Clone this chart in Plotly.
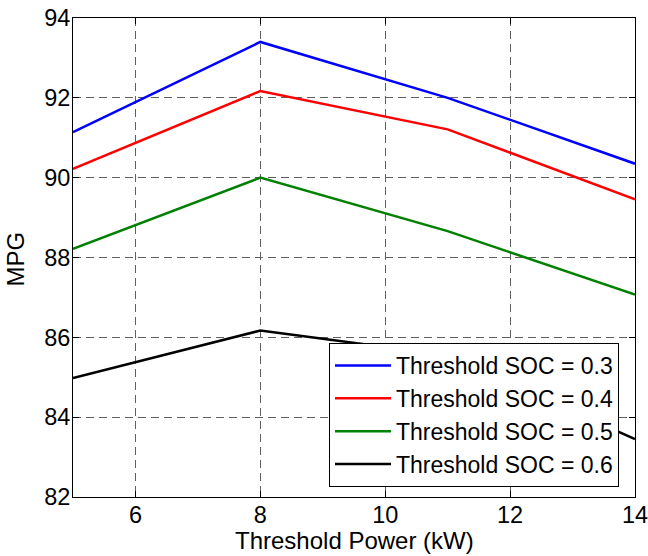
import plotly.graph_objects as go

x_power = [5, 8, 11, 14]
mpg_soc_03 = [91.14, 93.40, 92.00, 90.35]
mpg_soc_04 = [90.22, 92.17, 91.21, 89.46]
mpg_soc_05 = [88.22, 90.00, 88.66, 87.07]
mpg_soc_06 = [84.98, 86.17, 85.55, 83.45]
series_names = ["Threshold SOC = 0.3", "Threshold SOC = 0.4",
                "Threshold SOC = 0.5", "Threshold SOC = 0.6"]
series_colors = ["#0000ff", "#ff0000", "#008000", "#000000"]
x_ticks = [6, 8, 10, 12, 14]
y_ticks = [82, 84, 86, 88, 90, 92, 94]

fig = go.Figure()
for name, vals, col in zip(series_names, [mpg_soc_03, mpg_soc_04, mpg_soc_05, mpg_soc_06], series_colors):
    fig.add_trace(go.Scatter(x=x_power, y=vals, mode="lines", name=name,
                             line=dict(color=col, width=2.5)))

font_family = "Liberation Sans, Arial, sans-serif"
axis_common = dict(showline=True, linecolor="black", linewidth=1, mirror="allticks",
                   ticks="inside", ticklen=6, tickcolor="black", automargin=False,
                   ticklabeloverflow="allow",
                   showgrid=True, gridcolor="#606060", griddash="8px,5px", gridwidth=1,
                   zeroline=False, tickfont=dict(size=23.5, color="black", family=font_family))

fig.update_layout(
    width=648, height=556,
    margin=dict(l=73, r=13, t=18, b=59),
    plot_bgcolor="white", paper_bgcolor="white",
    font=dict(family=font_family, color="black"),
    xaxis=dict(range=[5, 14], tickvals=x_ticks, ticklabelstandoff=-3, **axis_common),
    yaxis=dict(range=[82, 94], tickvals=y_ticks, ticklabelstandoff=-3, **axis_common),
    legend=dict(x=0.9715, y=0.021, xanchor="right", yanchor="bottom",
                bgcolor="white", bordercolor="black", borderwidth=1, itemwidth=56,
                font=dict(size=23, color="black"), tracegroupgap=0),
    showlegend=True,
    annotations=[
        dict(text="Threshold Power (kW)", x=0.5, y=0, xref="paper", yref="paper",
             xanchor="center", yanchor="middle", yshift=-43, showarrow=False,
             font=dict(size=24, color="black")),
        dict(text="MPG", x=0, y=0.5, xref="paper", yref="paper", textangle=-90,
             xanchor="center", yanchor="middle", xshift=-58, yshift=-2, showarrow=False,
             font=dict(size=24, color="black")),
    ],
)

fig.write_html("out.html", config={"displayModeBar": False},
               post_script="document.body.style.margin='0';document.body.style.overflow='hidden';")
